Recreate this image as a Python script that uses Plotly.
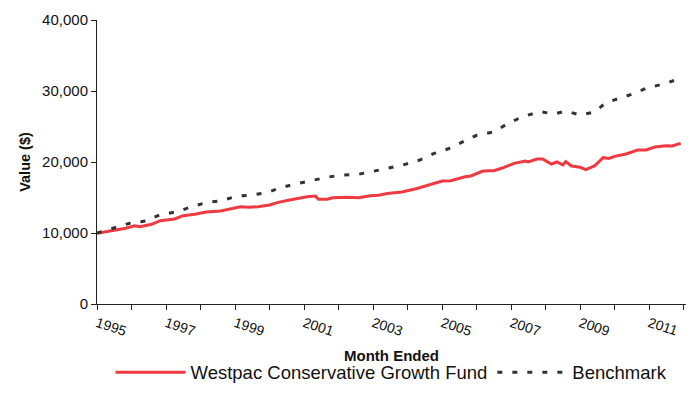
import plotly.graph_objects as go

fund_dates = [
    "1995-01", "1995-07", "1995-11", "1996-02", "1996-04", "1996-08", "1996-11",
    "1997-04", "1997-07", "1997-11", "1998-03", "1998-08", "1998-12", "1999-03",
    "1999-06", "1999-09", "2000-01", "2000-04", "2000-08", "2000-11", "2001-02",
    "2001-05", "2001-06", "2001-09", "2001-11", "2002-04", "2002-08", "2002-12",
    "2003-03", "2003-06", "2003-11", "2004-04", "2004-10", "2005-01", "2005-04",
    "2005-09", "2005-11", "2006-03", "2006-05", "2006-07", "2006-10", "2007-02",
    "2007-06", "2007-07", "2007-10", "2007-12", "2008-03", "2008-05", "2008-07",
    "2008-08", "2008-10", "2009-01", "2009-03", "2009-06", "2009-09", "2009-11",
    "2010-01", "2010-05", "2010-09", "2010-12", "2011-03", "2011-07", "2011-09",
    "2011-12",
]
fund_values = [
    9950, 10420, 10660, 11030, 10890, 11220, 11740,
    11970, 12440, 12630, 12960, 13100, 13480, 13710,
    13620, 13710, 13940, 14320, 14650, 14890, 15110,
    15210, 14750, 14750, 14970, 15020, 14970, 15260,
    15310, 15550, 15770, 16240, 16900, 17320, 17370,
    17930, 18030, 18690, 18780, 18780, 19150, 19810,
    20140, 20000, 20420, 20420, 19720, 20000, 19580,
    20050, 19440, 19250, 18920, 19440, 20610, 20510,
    20790, 21130, 21690, 21690, 22110, 22300, 22250,
    22630,
]

bench_dates = [
    "1995-01", "1995-08", "1996-01", "1996-06", "1996-11", "1997-05", "1997-10",
    "1998-03", "1998-08", "1999-02", "1999-07", "1999-12", "2000-05", "2000-10",
    "2001-04", "2001-09", "2002-02", "2002-08", "2003-01", "2003-06", "2003-11",
    "2004-05", "2004-10", "2005-03", "2005-08", "2006-01", "2006-07", "2006-12",
    "2007-05", "2007-11", "2008-04", "2008-08", "2009-01", "2009-06", "2009-10",
    "2010-03", "2010-08", "2010-12", "2011-06", "2011-11", "2012-01",
]
bench_values = [
    10000, 10800, 11450, 11690, 12580, 13000, 13710,
    14270, 14550, 15210, 15350, 15680, 16380, 16900,
    17420, 17850, 18170, 18270, 18690, 19150, 19540,
    20240, 21170, 21830, 22820, 23760, 24230, 25450,
    26380, 27090, 26760, 27180, 26620, 27040, 28360,
    28970, 29670, 30380, 30990, 31650, 31750,
]

y_tickvals = [0, 10000, 20000, 30000, 40000]
y_ticktext = ["0", "10,000", "20,000", "30,000", "40,000"]

fig = go.Figure()
fig.add_trace(go.Scatter(
    x=fund_dates, y=fund_values, mode="lines",
    name="Westpac Conservative Growth Fund",
    line=dict(color="#EF3A42", width=3),
))
fig.add_trace(go.Scatter(
    x=bench_dates, y=bench_values, mode="lines",
    name="Benchmark",
    line=dict(color="#333333", width=3, dash="5px,10px"),
))

fig.update_layout(
    width=688, height=409,
    margin=dict(l=97, r=2, t=20, b=105, autoexpand=False),
    paper_bgcolor="white", plot_bgcolor="white",
    font=dict(family="Liberation Sans, Arial, sans-serif", size=14, color="#111"),
    showlegend=True,
    legend=dict(
        orientation="h", x=0.5, xanchor="center", y=-0.175, yanchor="top",
        font=dict(size=18.5, color="#111"), itemwidth=70, tracegroupgap=0,
    ),
    xaxis=dict(
        type="date",
        range=["1995-01-01", "2012-01-26"],
        tick0="1995-01-01", dtick="M24", tickformat="%Y",
        tickangle=18, automargin=False,
        showline=True, linecolor="#222", linewidth=1,
        ticks="outside", ticklen=5, tickcolor="#222",
        minor=dict(dtick="M12", ticks="outside", ticklen=5, tickcolor="#222"),
        showgrid=False, zeroline=False,
        title=dict(text="<b>Month Ended</b>", font=dict(size=15), standoff=12),
        tickfont=dict(size=14),
    ),
    yaxis=dict(
        range=[0, 40000], automargin=False,
        tickvals=y_tickvals, ticktext=y_ticktext,
        showline=True, linecolor="#222", linewidth=1,
        ticks="outside", ticklen=5, tickcolor="#222",
        showgrid=False, zeroline=False,
        title=dict(text="<b>Value ($)</b>", font=dict(size=14.5), standoff=8),
        tickfont=dict(size=15),
    ),
)

fig.write_html(
    "out.html",
    config={"displayModeBar": False},
    post_script="document.body.style.margin='0';",
)
